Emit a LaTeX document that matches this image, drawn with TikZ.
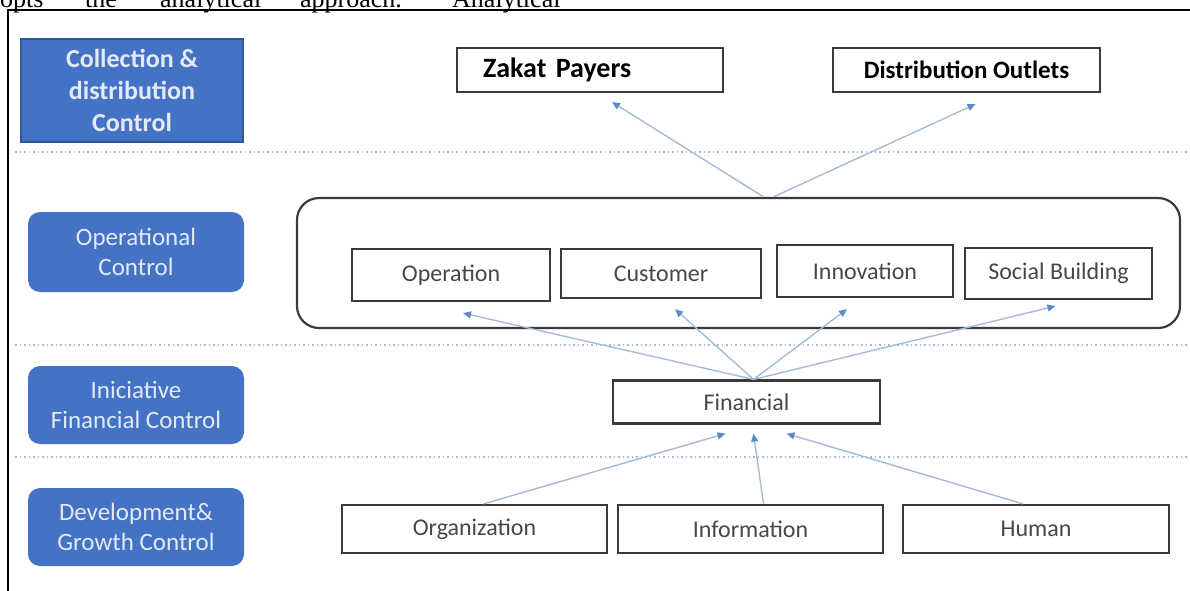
\documentclass[tikz,border=0pt]{standalone}
\usepackage{fontspec}
\setmainfont{Carlito}
\newfontfamily\pageserif{Liberation Serif}
\usetikzlibrary{arrows.meta}
\definecolor{sideblue}{HTML}{4472C4}
\definecolor{sideedge}{HTML}{2F5597}
\definecolor{sidetext}{HTML}{E3EAF6}
\definecolor{linkblue}{HTML}{A3BCD6}
\definecolor{tipblue}{HTML}{5B8CC4}
\definecolor{boxline}{HTML}{3A3A3A}
\definecolor{boxtext}{HTML}{474747}
\definecolor{sepdots}{HTML}{A9BCD0}

\begin{document}
\begin{tikzpicture}[x=1pt,y=-1pt,
    side/.style={fill=sideblue,rounded corners=12pt,text=sidetext,align=center,inner sep=0pt,
        minimum width=216pt,font=\fontsize{25}{30}\selectfont},
    box/.style={draw=boxline,line width=2.2pt,text=boxtext,inner sep=0pt,
        font=\fontsize{24}{28}\selectfont},
    link/.style={draw=linkblue,line width=1.4pt,-{Triangle[length=8pt,width=7pt,color=tipblue]}},
    sep/.style={sepdots,line width=1.5pt,dash pattern=on 1.5pt off 3pt},
    pageword/.style={anchor=base west,inner sep=0pt,font=\pageserif\fontsize{26}{30}\selectfont}]
\useasboundingbox (0,0) rectangle (1190,590);
\begin{scope}
    \clip (0,0) rectangle (1190,590);
    \draw[line width=2.2pt] (8,600) -- (8,10) -- (1200,10);
    \node[pageword] (w1) at (0,7) {opts};
    \node[pageword] (w2) at (85,7) {the};
    \node[pageword] (w3) at (160,7) {analytical};
    \node[pageword] (w4) at (300,7) {approach.};
    \node[pageword] (w5) at (452,7) {Analytical};
\end{scope}

\draw[sep] (15,152) -- (1190,152);
\draw[sep] (15,345) -- (1190,345);
\draw[sep] (15,457) -- (1190,457);

\node[fill=sideblue,draw=sideedge,line width=2pt,text=sidetext,align=center,inner sep=0pt,
    minimum width=222pt,minimum height=103pt,font=\bfseries\fontsize{26}{32}\selectfont]
    (coll) at (132,90.5) {Collection \&\\distribution\\Control};
\node[side,minimum height=80pt] (opc) at (136,252) {Operational\\Control};
\node[side,minimum height=78pt] (inic) at (136,405) {Iniciative\\Financial Control};
\node[side,minimum height=78pt] (devg) at (136,527) {Development\&\\Growth Control};

\node[box,text=black,font=\bfseries\fontsize{28}{32}\selectfont,text width=214pt,inner xsep=26pt,
    align=left,minimum height=44pt] (zak) at (590,70) {Zakat Payers};
\node[box,text=black,font=\bfseries\fontsize{25}{30}\selectfont,minimum width=267pt,
    minimum height=44pt] (dist) at (966.5,70) {Distribution Outlets};

\node[draw=boxline,line width=2.2pt,rounded corners=22pt,minimum width=883pt,
    minimum height=130pt] (big) at (738.5,263) {};
\node[box,minimum width=198pt,minimum height=52pt] (oper) at (451,275) {Operation};
\node[box,minimum width=200pt,minimum height=49pt] (cust) at (661,273.5) {Customer};
\node[box,minimum width=176pt,minimum height=52pt] (innov) at (865,271) {Innovation};
\node[box,minimum width=187pt,minimum height=51pt] (socb) at (1058.5,273.5) {Social Building};

\node[box,minimum width=267pt,minimum height=43pt] (fin) at (746.5,402) {Financial};

\node[box,minimum width=265pt,minimum height=48pt] (org) at (474.5,529) {Organization};
\node[box,minimum width=265pt,minimum height=48pt] (info) at (750.5,529) {Information};
\node[box,minimum width=266pt,minimum height=48pt] (hum) at (1036,529) {Human};

\draw[link] ([xshift=25pt]big.north) -- ([xshift=22pt,yshift=-9pt]zak.south);
\draw[link] ([xshift=35pt]big.north) -- ([xshift=9pt,yshift=-11pt]dist.south);

\draw[link] ([xshift=7pt]fin.north) -- ([xshift=12pt,yshift=-11pt]oper.south);
\draw[link] ([xshift=7pt]fin.north) -- ([xshift=14pt,yshift=-10pt]cust.south);
\draw[link] ([xshift=7pt]fin.north) -- ([xshift=-18pt,yshift=-11pt]innov.south);
\draw[link] ([xshift=7pt]fin.north) -- ([xshift=-3pt,yshift=-6pt]socb.south);

\draw[link] ([xshift=9pt]org.north) -- ([xshift=-21pt,yshift=-9pt]fin.south);
\draw[link] ([xshift=13pt]info.north) -- ([xshift=7pt,yshift=-9pt]fin.south);
\draw[link] ([xshift=-13pt]hum.north) -- ([xshift=40pt,yshift=-9pt]fin.south);
\end{tikzpicture}
\end{document}
